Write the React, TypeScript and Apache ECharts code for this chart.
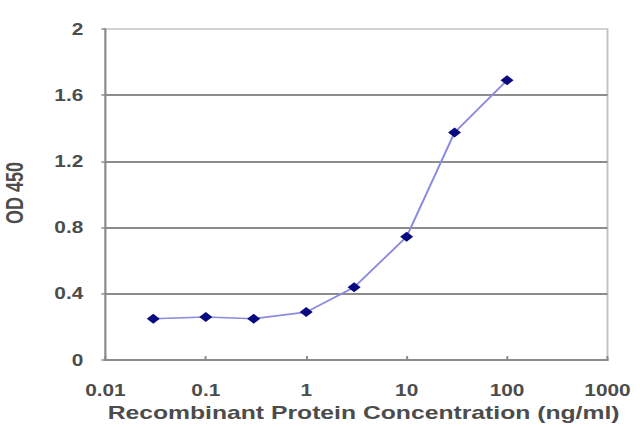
import React, { useEffect, useRef } from "react";
import * as echarts from "echarts";

const concentrations = [0.03, 0.1, 0.3, 1, 3, 10, 30, 100];
const od450 = [0.25, 0.26, 0.25, 0.29, 0.44, 0.745, 1.375, 1.69];
const xTickLabels = ["0.01", "0.1", "1", "10", "100", "1000"];
const yTickLabels = ["0", "0.4", "0.8", "1.2", "1.6", "2"];

const FONT = "Liberation Sans, Arial, sans-serif";
const TEXT_COLOR = "#4c4c4c";
// The reference image is horizontally stretched; draw at a narrower width and stretch.
const BASE_WIDTH = 492;
const HEIGHT = 427;
const STRETCH = 640 / BASE_WIDTH;

export default function App() {
  const ref = useRef<HTMLDivElement>(null);
  useEffect(() => {
    document.body.style.margin = "0";
    if (!ref.current) return;
    const chart = echarts.init(ref.current, undefined, { renderer: "svg" });
    chart.setOption({
      animation: false,
      backgroundColor: "#ffffff",
      grid: {
        left: 81,
        right: 25,
        top: 29,
        bottom: 65,
        show: true,
        borderColor: "#c4c4c4",
        borderWidth: 1.5,
        backgroundColor: "transparent",
      },
      xAxis: {
        type: "log",
        logBase: 10,
        min: 0.01,
        max: 1000,
        name: "Recombinant Protein Concentration (ng/ml)",
        nameLocation: "middle",
        nameGap: 36,
        nameTextStyle: {
          fontFamily: FONT,
          fontSize: 19,
          fontWeight: "bold",
          color: TEXT_COLOR,
          padding: [0, 0, 0, 11],
        },
        axisLine: { show: true, lineStyle: { color: "#8a8a8a", width: 2 } },
        axisTick: { show: true, inside: true, length: 4, lineStyle: { color: "#8a8a8a", width: 1.5 } },
        splitLine: { show: false },
        axisLabel: {
          margin: 22,
          fontFamily: FONT,
          fontSize: 16,
          fontWeight: "bold",
          color: TEXT_COLOR,
          formatter: (v: number) => {
            const i = Math.round(Math.log10(v)) + 2;
            return xTickLabels[i] ?? String(v);
          },
        },
      },
      yAxis: {
        type: "value",
        min: 0,
        max: 2,
        interval: 0.4,
        axisLine: { show: true, lineStyle: { color: "#8a8a8a", width: 1.5 } },
        axisTick: { show: true, length: 3, lineStyle: { color: "#8a8a8a", width: 1.5 } },
        splitLine: {
          show: true,
          showMinLine: false,
          showMaxLine: false,
          lineStyle: { color: "#8c8c8c", width: 2 },
        },
        axisLabel: {
          margin: 17,
          fontFamily: FONT,
          fontSize: 16,
          fontWeight: "bold",
          color: TEXT_COLOR,
          formatter: (v: number) => yTickLabels[Math.round(v / 0.4)] ?? String(v),
        },
      },
      graphic: [
        {
          type: "text",
          x: 11,
          y: 193,
          rotation: Math.PI / 2,
          style: {
            text: "OD 450",
            fontFamily: FONT,
            fontSize: 18,
            fontWeight: "bold",
            fill: TEXT_COLOR,
            align: "center",
            verticalAlign: "middle",
          },
        },
      ],
      series: [
        {
          type: "line",
          data: concentrations.map((c, i) => [c, od450[i]]),
          symbol: "diamond",
          symbolSize: 10,
          itemStyle: { color: "#0a0a80" },
          lineStyle: { color: "#8a8ae0", width: 1.6 },
        },
      ],
    });
    return () => chart.dispose();
  }, []);
  return (
    <div
      ref={ref}
      style={{
        width: BASE_WIDTH,
        height: HEIGHT,
        transform: `scaleX(${STRETCH})`,
        transformOrigin: "0 0",
      }}
    />
  );
}
